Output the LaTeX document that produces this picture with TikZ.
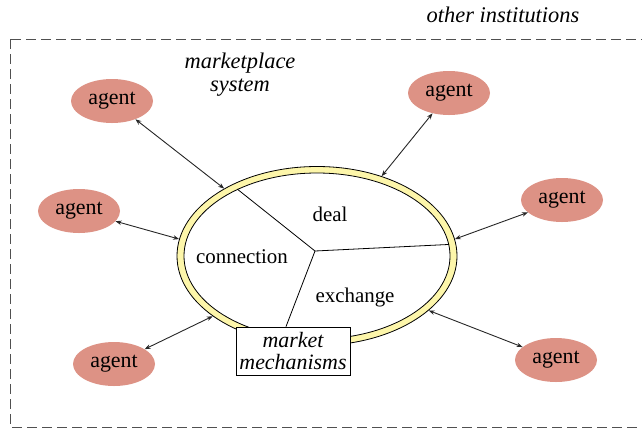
\documentclass[tikz,border=0pt]{standalone}
\usepackage{fontspec}
\setmainfont{Liberation Serif}
\usetikzlibrary{shapes.geometric,arrows.meta,calc}
\definecolor{agentfill}{RGB}{221,146,133}
\definecolor{ringfill}{RGB}{253,246,170}
\definecolor{framegray}{RGB}{80,80,80}
\begin{document}
\begin{tikzpicture}[x=1bp,y=-1bp,
  agentnode/.style={ellipse, fill=agentfill, minimum width=82bp, minimum height=44bp,
    inner sep=0pt, font=\fontsize{22}{24}\selectfont},
  link/.style={{Stealth[length=6bp,width=4.5bp]}-{Stealth[length=6bp,width=4.5bp]},
    line width=0.9bp, draw=black!85},
  part/.style={line width=0.8bp},
  lbl/.style={font=\fontsize{21}{24}\selectfont},
  ilbl/.style={font=\fontsize{22.5}{23}\selectfont\itshape, align=center}]
\clip (0,0) rectangle (642,429);

% outer boundary of the institutional environment
\draw[framegray, line width=1bp, dash pattern=on 10bp off 5bp] (10,39) rectangle (700,427);
\node[ilbl] (inst) at (503,15) {other institutions};
\node[ilbl] (mps) at (240,75) {marketplace\\system};

% the marketplace ring
\node[ellipse, draw, line width=0.8bp, fill=ringfill, minimum width=280bp,
  minimum height=179bp, inner sep=0pt] (ring) at (317,256) {};
\node[ellipse, draw, line width=0.8bp, fill=white, minimum width=266bp,
  minimum height=166bp, inner sep=0pt] (core) at (317,256) {};

% market mechanisms box on the lower rim
\node[draw, fill=white, line width=0.8bp, minimum width=114bp, minimum height=48bp,
  inner sep=0.5bp, font=\fontsize{22}{22.5}\selectfont\itshape, align=center]
  (mm) at (293,351) {market\\mechanisms};

% three sectors inside the ring
\coordinate (hub) at (315,251);
\draw[part] (hub) -- (core.140.5);
\draw[part] (hub) -- (core.5.4);
\draw[part] (hub) -- ($(mm.north)+(-7,0)$);

\node[lbl] (deal) at (330,214) {deal};
\node[lbl] (conn) at (242,257) {connection};
\node[lbl] (exch) at (355,297) {exchange};

% agents
\node[agentnode] (a1) at (112,101) {agent};
\node[agentnode] (a2) at (449,93) {agent};
\node[agentnode] (a3) at (79,211) {agent};
\node[agentnode] (a4) at (562,200) {agent};
\node[agentnode] (a5) at (114,364) {agent};
\node[agentnode] (a6) at (556,360) {agent};

% agent interactions with the marketplace
\draw[link] (a1) -- (ring.144.9);
\draw[link] (a2) -- (ring.51);
\draw[link] (a3) -- (ring.173.5);
\draw[link] (a4) -- (ring.7.5);
\draw[link] (a5) -- (ring.210);
\draw[link] (a6) -- (ring.334);
\end{tikzpicture}
\end{document}
